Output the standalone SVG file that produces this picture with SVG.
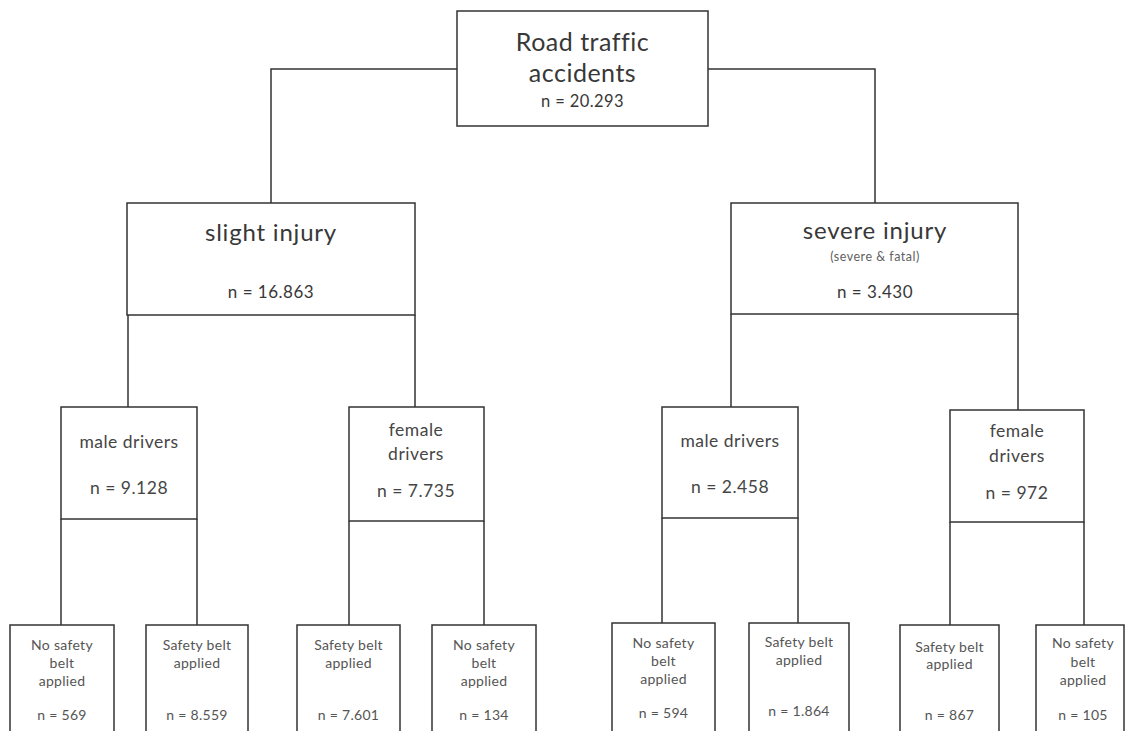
<svg xmlns="http://www.w3.org/2000/svg" width="1130" height="731" viewBox="0 0 1130 731">
  <style>
    .box { fill: #ffffff; stroke: #333333; stroke-width: 1.5; }
    .wire { fill: none; stroke: #333333; stroke-width: 1.5; }
    text { font-family: Lato, "Noto Sans", "Liberation Sans", sans-serif; font-weight: 400; text-anchor: middle; fill: #383838; }
    .t1 { font-size: 25px; letter-spacing: 0.5px; }
    .t2 { font-size: 24px; letter-spacing: 0.8px; }
    .sub { font-size: 12.5px; letter-spacing: 0.5px; fill: #606060; }
    .n1 { font-size: 16.5px; letter-spacing: 0.4px; }
    .n2 { font-size: 17px; letter-spacing: 0.5px; }
    .t3 { font-size: 17.5px; letter-spacing: 0.5px; fill: #454545; }
    .t4 { font-size: 14px; letter-spacing: 0.3px; fill: #555555; }
  </style>
  <rect width="1130" height="731" fill="#ffffff"/>

  <!-- connectors -->
  <g id="connectors">
    <path class="wire" d="M457,69 H271 V203"/>
    <path class="wire" d="M708,69 H875 V203"/>
    <path class="wire" d="M128,315 V407 M415,315 V407"/>
    <path class="wire" d="M731,314 V407 M1018,314 V410"/>
    <path class="wire" d="M61,519 V625 M197,519 V625"/>
    <path class="wire" d="M349,521 V625 M484,521 V625"/>
    <path class="wire" d="M662,518 V623 M798,518 V623"/>
    <path class="wire" d="M950,522 V625 M1084,522 V625"/>
  </g>

  <!-- root -->
  <g id="node-accidents">
    <rect class="box" x="457" y="11" width="251" height="115"/>
    <text class="t1" x="582.5" y="51">Road traffic</text>
    <text class="t1" x="582.5" y="82">accidents</text>
    <text class="n1" x="582.5" y="107">n = 20.293</text>
  </g>

  <!-- severity -->
  <g id="node-slight">
    <rect class="box" x="127" y="203" width="288" height="112"/>
    <text class="t2" x="271" y="241">slight injury</text>
    <text class="n2" x="271" y="298">n = 16.863</text>
  </g>
  <g id="node-severe">
    <rect class="box" x="731" y="203" width="287" height="111"/>
    <text class="t2" x="875" y="239">severe injury</text>
    <text class="sub" x="875" y="261">(severe &amp; fatal)</text>
    <text class="n2" x="875" y="298">n = 3.430</text>
  </g>

  <!-- driver sex -->
  <g id="node-slight-male">
    <rect class="box" x="61" y="407" width="136" height="112"/>
    <text class="t3" x="129" y="448">male drivers</text>
    <text class="t3" x="129" y="494">n = 9.128</text>
  </g>
  <g id="node-slight-female">
    <rect class="box" x="349" y="407" width="135" height="114"/>
    <text class="t3" x="416" y="436">female</text>
    <text class="t3" x="416" y="460">drivers</text>
    <text class="t3" x="416" y="497">n = 7.735</text>
  </g>
  <g id="node-severe-male">
    <rect class="box" x="662" y="407" width="136" height="111"/>
    <text class="t3" x="730" y="447">male drivers</text>
    <text class="t3" x="730" y="493">n = 2.458</text>
  </g>
  <g id="node-severe-female">
    <rect class="box" x="950" y="410" width="134" height="112"/>
    <text class="t3" x="1017" y="437">female</text>
    <text class="t3" x="1017" y="462">drivers</text>
    <text class="t3" x="1017" y="499">n = 972</text>
  </g>

  <!-- safety belt -->
  <g id="node-sm-nobelt">
    <rect class="box" x="10" y="625" width="104" height="120"/>
    <text class="t4" x="62" y="650">No safety</text>
    <text class="t4" x="62" y="668">belt</text>
    <text class="t4" x="62" y="686">applied</text>
    <text class="t4" x="62" y="720">n = 569</text>
  </g>
  <g id="node-sm-belt">
    <rect class="box" x="146" y="625" width="102" height="120"/>
    <text class="t4" x="197" y="650">Safety belt</text>
    <text class="t4" x="197" y="668">applied</text>
    <text class="t4" x="197" y="720">n = 8.559</text>
  </g>
  <g id="node-sf-belt">
    <rect class="box" x="297" y="625" width="103" height="120"/>
    <text class="t4" x="348.5" y="650">Safety belt</text>
    <text class="t4" x="348.5" y="668">applied</text>
    <text class="t4" x="348.5" y="720">n = 7.601</text>
  </g>
  <g id="node-sf-nobelt">
    <rect class="box" x="432" y="625" width="104" height="120"/>
    <text class="t4" x="484" y="650">No safety</text>
    <text class="t4" x="484" y="668">belt</text>
    <text class="t4" x="484" y="686">applied</text>
    <text class="t4" x="484" y="720">n = 134</text>
  </g>
  <g id="node-vm-nobelt">
    <rect class="box" x="612" y="623" width="103" height="120"/>
    <text class="t4" x="663.5" y="648">No safety</text>
    <text class="t4" x="663.5" y="666">belt</text>
    <text class="t4" x="663.5" y="684">applied</text>
    <text class="t4" x="663.5" y="718">n = 594</text>
  </g>
  <g id="node-vm-belt">
    <rect class="box" x="749" y="623" width="100" height="120"/>
    <text class="t4" x="799" y="647">Safety belt</text>
    <text class="t4" x="799" y="665">applied</text>
    <text class="t4" x="799" y="716">n = 1.864</text>
  </g>
  <g id="node-vf-belt">
    <rect class="box" x="900" y="625" width="99" height="120"/>
    <text class="t4" x="949.5" y="652">Safety belt</text>
    <text class="t4" x="949.5" y="669">applied</text>
    <text class="t4" x="949.5" y="720">n = 867</text>
  </g>
  <g id="node-vf-nobelt">
    <rect class="box" x="1036" y="625" width="88" height="120"/>
    <text class="t4" x="1083" y="648">No safety</text>
    <text class="t4" x="1083" y="667">belt</text>
    <text class="t4" x="1083" y="685">applied</text>
    <text class="t4" x="1083" y="720">n = 105</text>
  </g>
</svg>
